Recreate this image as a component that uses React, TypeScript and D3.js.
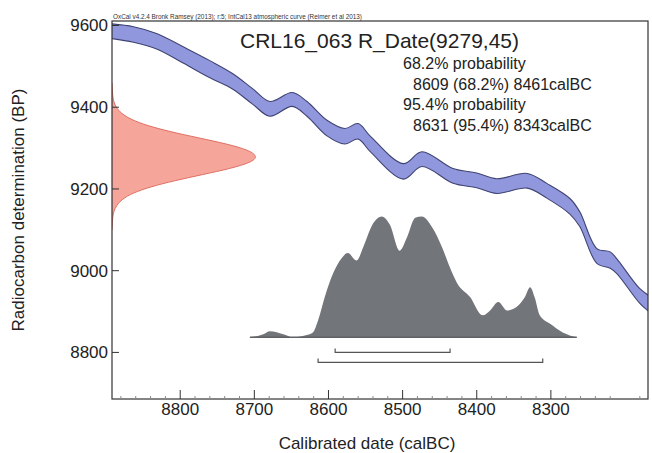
import React from 'react';
import * as d3 from 'd3';

// calibration curve (IntCal13): calBC, BP, 1 sigma
const calBC = [8892, 8863, 8831, 8796, 8760, 8729, 8702, 8679, 8649, 8629, 8602, 8578, 8560, 8544, 8499, 8474, 8432, 8400, 8373, 8332, 8305, 8274, 8261, 8238, 8220, 8211, 8180, 8165];
const calBP = [9586, 9578, 9561, 9528, 9493, 9463, 9426, 9396, 9419, 9396, 9349, 9329, 9341, 9311, 9243, 9273, 9232, 9221, 9207, 9220, 9195, 9157, 9126, 9036, 9026, 9011, 8938, 8916];
const calErr = [18, 19, 19, 20, 21, 19, 19, 18, 17, 18, 19, 19, 19, 19, 19, 18, 18, 18, 18, 18, 18, 19, 18, 18, 20, 18, 18, 20];

// radiocarbon date 9279 +/- 45, relative probability
const dateBP = [9099, 9130, 9145, 9160, 9175, 9190, 9205, 9220, 9235, 9250, 9265, 9279, 9295, 9310, 9325, 9340, 9355, 9370, 9385, 9400, 9415, 9430, 9460];
const dateProb = [0.0, 0.004, 0.012, 0.031, 0.069, 0.141, 0.26, 0.424, 0.619, 0.812, 0.953, 1, 0.939, 0.789, 0.593, 0.399, 0.24, 0.129, 0.062, 0.027, 0.01, 0.004, 0.0];

// calibrated distribution, relative probability
const postBC = [8706, 8688, 8679, 8661, 8648, 8632, 8621, 8614, 8605, 8594, 8582, 8574, 8562, 8553, 8541, 8528, 8517, 8504, 8494, 8483, 8474, 8460, 8447, 8436, 8427, 8409, 8392, 8382, 8371, 8359, 8346, 8335, 8328, 8322, 8315, 8301, 8284, 8265];
const postProb = [0, 0.025, 0.05, 0.025, 0.0, 0.015, 0.04, 0.14, 0.33, 0.52, 0.65, 0.69, 0.63, 0.74, 0.92, 0.99, 0.92, 0.71, 0.82, 0.98, 0.99, 0.9, 0.74, 0.57, 0.45, 0.33, 0.18, 0.22, 0.29, 0.22, 0.25, 0.33, 0.41, 0.33, 0.18, 0.11, 0.04, 0];

// ranges drawn under the distribution
const range68 = [8591, 8436];
const range95 = [8614, 8311];

const xTicks = [8800, 8700, 8600, 8500, 8400, 8300];
const yTicks = [8800, 9000, 9200, 9400, 9600];

const header = 'OxCal v4.2.4 Bronk Ramsey (2013); r:5; IntCal13 atmospheric curve (Reimer et al 2013)';
const title = 'CRL16_063 R_Date(9279,45)';
const probLines = ['68.2% probability', '8609 (68.2%) 8461calBC', '95.4% probability', '8631 (95.4%) 8343calBC'];

const W = 652;
const H = 453;
const left = 112, right = 648, top = 21, bottom = 399;
const font = '"Liberation Sans", Arial, sans-serif';

export default function App() {
  const x = d3.scaleLinear().domain([8892, 8169]).range([left, right]);
  const y = d3.scaleLinear().domain([8686, 9611]).range([bottom, top]);

  const cal = calBC.map((d, i) => ({ bc: d, bp: calBP[i], e: calErr[i] }));
  const band = d3.area<any>()
    .x(d => x(d.bc))
    .y0(d => y(d.bp - d.e))
    .y1(d => y(d.bp + d.e))
    .curve(d3.curveCatmullRom);
  const upper = d3.line<any>().x(d => x(d.bc)).y(d => y(d.bp + d.e)).curve(d3.curveCatmullRom);
  const lower = d3.line<any>().x(d => x(d.bc)).y(d => y(d.bp - d.e)).curve(d3.curveCatmullRom);

  // date on the y axis
  const dw = d3.scaleLinear().domain([0, 1]).range([left, left + 146]);
  const date = dateBP.map((d, i) => ({ bp: d, p: dateProb[i] }));
  const dateArea = d3.area<any>().y(d => y(d.bp)).x0(left).x1(d => dw(d.p)).curve(d3.curveBasis);
  const dateLine = d3.line<any>().y(d => y(d.bp)).x(d => dw(d.p)).curve(d3.curveBasis);

  // calibrated distribution
  const base = y(8837);
  const ph = d3.scaleLinear().domain([0, 1]).range([base, base - 122]);
  const post = postBC.map((d, i) => ({ bc: d, p: postProb[i] }));
  const postArea = d3.area<any>().x(d => x(d.bc)).y0(base).y1(d => ph(d.p)).curve(d3.curveMonotoneX);

  const b68 = y(8800);
  const b95 = b68 + 10;
  const bracket = (r: number[], yy: number) =>
    `M${x(r[0])},${yy - 4}V${yy}H${x(r[1])}V${yy - 4}`;

  const minor = d3.range(8880, 8160, -20).filter(v => v % 100 !== 0);

  return (
    <svg width={W} height={H} style={{ position: 'absolute', left: 0, top: 0, background: '#fff' }} fontFamily={font}>
      <defs>
        <clipPath id="plot">
          <rect x={left} y={top} width={right - left} height={bottom - top} />
        </clipPath>
      </defs>

      <g clipPath="url(#plot)">
        <path d={band(cal) || ''} fill="#9097dd" />
        <path d={upper(cal) || ''} fill="none" stroke="#3f4372" strokeWidth={1.1} />
        <path d={lower(cal) || ''} fill="none" stroke="#3f4372" strokeWidth={1.1} />

        <path d={dateArea(date) || ''} fill="#f6a59b" />
        <path d={dateLine(date) || ''} fill="none" stroke="#e07063" strokeWidth={1} />

        <path d={postArea(post) || ''} fill="#727579" />
        <line x1={x(8706)} x2={x(8265)} y1={base} y2={base} stroke="#5f6164" strokeWidth={1.5} />
      </g>

      <path d={bracket(range68, b68)} fill="none" stroke="#555" strokeWidth={1.2} />
      <path d={bracket(range95, b95)} fill="none" stroke="#555" strokeWidth={1.2} />

      <rect x={left} y={top} width={right - left} height={bottom - top} fill="none" stroke="#333" strokeWidth={1.2} />

      {yTicks.map(t => (
        <g key={t}>
          <line x1={left} x2={left + 7} y1={y(t)} y2={y(t)} stroke="#333" />
          <text x={left - 4} y={y(t)} dy="0.35em" textAnchor="end" fontSize={17} fill="#222">{t}</text>
        </g>
      ))}
      {xTicks.map(t => (
        <g key={t}>
          <line x1={x(t)} x2={x(t)} y1={bottom} y2={bottom - 9} stroke="#333" />
          <text x={x(t)} y={415} textAnchor="middle" fontSize={17} fill="#222">{t}</text>
        </g>
      ))}
      {minor.map(t => (
        <line key={t} x1={x(t)} x2={x(t)} y1={bottom} y2={bottom - 3} stroke="#888" />
      ))}

      <text x={113} y={19} fontSize={7} fill="#333" textLength={249} lengthAdjust="spacingAndGlyphs">{header}</text>
      <text x={240} y={48} fontSize={21} fill="#222">{title}</text>
      {probLines.map((s, i) => (
        <text key={s} x={i % 2 === 0 ? 403 : 413} y={69 + i * 20.5} fontSize={16} fill="#222">{s}</text>
      ))}

      <text x={367} y={449} textAnchor="middle" fontSize={17} fill="#222">Calibrated date (calBC)</text>
      <text transform={`translate(24,${(top + bottom) / 2}) rotate(-90)`} textAnchor="middle" fontSize={17} fill="#222">Radiocarbon determination (BP)</text>
    </svg>
  );
}
